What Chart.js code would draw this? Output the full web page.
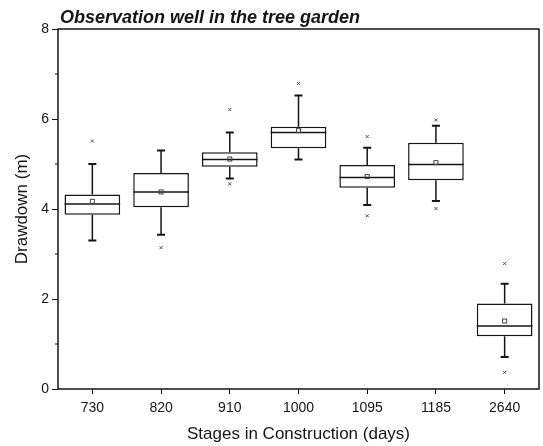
<!doctype html>
<html lang="en">
  <head>
    <meta charset="utf-8">
    <title>Observation well in the tree garden</title>
    <style>
      * { margin: 0; padding: 0; }
      body { background: #fff; }
      .chartBox { width: 543px; height: 446px; }
    </style>
  </head>
  <body>
    <div class="chartBox">
      <canvas id="myChart" width="543" height="446"></canvas>
    </div>
    <script src="https://cdn.jsdelivr.net/npm/chart.js"></script>
    <script>
    // data
    const stages = ['730', '820', '910', '1000', '1095', '1185', '2640'];
    const q1 = [3.87, 4.04, 4.94, 5.35, 4.47, 4.64, 1.17];
    const q3 = [4.32, 4.80, 5.26, 5.83, 4.98, 5.47, 1.90];
    const median = [4.11, 4.38, 5.10, 5.70, 4.70, 4.99, 1.40];
    const mean = [4.17, 4.38, 5.11, 5.74, 4.72, 5.03, 1.51];
    const whiskerLow = [3.30, 3.43, 4.68, 5.10, 4.09, 4.18, 0.71];
    const whiskerHigh = [5.00, 5.30, 5.70, 6.52, 5.36, 5.85, 2.34];
    const outlierLow = [null, 3.14, 4.56, null, 3.85, 4.01, 0.37];
    const outlierHigh = [5.51, null, 6.21, 6.79, 5.61, 5.98, 2.79];
    const yTicks = [0, 2, 4, 6, 8];
    const yMinorTicks = [1, 3, 5, 7];

    const ink = '#151515';
    const font = 'Liberation Sans, Arial, sans-serif';

    // whiskers, medians, means and outliers on top of the floating bars
    const boxParts = {
      id: 'boxParts',
      afterDatasetsDraw(chart) {
        const { ctx, scales: { y } } = chart;
        const meta = chart.getDatasetMeta(0);
        ctx.save();
        ctx.strokeStyle = ink;
        meta.data.forEach((bar, i) => {
          const x = bar.x;
          const half = bar.width / 2;
          const yq1 = y.getPixelForValue(q1[i]);
          const yq3 = y.getPixelForValue(q3[i]);
          const ylo = y.getPixelForValue(whiskerLow[i]);
          const yhi = y.getPixelForValue(whiskerHigh[i]);

          // whiskers
          ctx.lineWidth = 1.5;
          ctx.beginPath();
          ctx.moveTo(x, yq3); ctx.lineTo(x, yhi);
          ctx.moveTo(x, yq1); ctx.lineTo(x, ylo);
          ctx.stroke();
          ctx.lineWidth = 2;
          ctx.beginPath();
          ctx.moveTo(x - 4, yhi); ctx.lineTo(x + 4, yhi);
          ctx.moveTo(x - 4, ylo); ctx.lineTo(x + 4, ylo);
          ctx.stroke();

          // median
          ctx.lineWidth = 1.5;
          ctx.beginPath();
          const ym = y.getPixelForValue(median[i]);
          ctx.moveTo(x - half, ym); ctx.lineTo(x + half, ym);
          ctx.stroke();

          // mean
          ctx.lineWidth = 1;
          ctx.strokeStyle = '#444';
          const ymean = y.getPixelForValue(mean[i]);
          ctx.strokeRect(x - 2, ymean - 2, 4, 4);

          // outliers
          ctx.strokeStyle = '#555';
          [outlierLow[i], outlierHigh[i]].forEach(v => {
            if (v === null) return;
            const yo = y.getPixelForValue(v);
            ctx.beginPath();
            ctx.moveTo(x - 1.5, yo - 1.5); ctx.lineTo(x + 1.5, yo + 1.5);
            ctx.moveTo(x + 1.5, yo - 1.5); ctx.lineTo(x - 1.5, yo + 1.5);
            ctx.stroke();
          });
          ctx.strokeStyle = ink;
        });
        ctx.restore();
      }
    };

    // frame, minor ticks and title
    const frame = {
      id: 'frame',
      afterDraw(chart) {
        const { ctx, chartArea: { top, bottom, left, right }, scales: { y } } = chart;
        ctx.save();
        ctx.strokeStyle = ink;
        ctx.lineWidth = 1.5;
        ctx.strokeRect(left, top, right - left, bottom - top);
        ctx.lineWidth = 1;
        ctx.beginPath();
        yMinorTicks.forEach(v => {
          const yy = y.getPixelForValue(v);
          ctx.moveTo(left - 3, yy); ctx.lineTo(left, yy);
        });
        ctx.stroke();

        ctx.fillStyle = ink;
        ctx.font = 'italic bold 18px ' + font;
        ctx.textAlign = 'left';
        ctx.textBaseline = 'alphabetic';
        ctx.fillText('Observation well in the tree garden', left + 2, top - 6);
        ctx.restore();
      }
    };

    const data = {
      labels: stages,
      datasets: [{
        label: 'Drawdown',
        data: q1.map((v, i) => [v, q3[i]]),
        backgroundColor: '#fff',
        borderColor: ink,
        borderWidth: 1.5,
        borderSkipped: false,
        categoryPercentage: 1,
        barPercentage: 0.81
      }]
    };

    const config = {
      type: 'bar',
      data,
      options: {
        responsive: false,
        animation: false,
        layout: {
          padding: { top: 29, right: 4, left: 0, bottom: 0 }
        },
        scales: {
          x: {
            offset: true,
            grid: { display: true, drawOnChartArea: false, drawTicks: true, tickLength: 5, color: ink, offset: false },
            border: { display: false },
            ticks: { color: ink, font: { family: font, size: 14 }, padding: 6, maxRotation: 0 },
            title: {
              display: true,
              text: 'Stages in Construction (days)',
              color: ink,
              font: { family: font, size: 17 },
              padding: { top: 0, bottom: 1 }
            },
            afterFit(scale) { scale.height = 57; }
          },
          y: {
            min: 0,
            max: 8,
            afterBuildTicks(scale) { scale.ticks = yTicks.map(v => ({ value: v })); },
            grid: { display: true, drawOnChartArea: false, drawTicks: true, tickLength: 6, color: ink },
            border: { display: false },
            ticks: { color: ink, font: { family: font, size: 14 }, padding: 3 },
            title: {
              display: true,
              text: 'Drawdown (m)',
              color: ink,
              font: { family: font, size: 17 },
              padding: { top: 12, bottom: 0 }
            },
            afterFit(scale) { scale.width = 58; }
          }
        },
        plugins: {
          legend: { display: false },
          tooltip: { enabled: false }
        }
      },
      plugins: [boxParts, frame]
    };

    const myChart = new Chart(document.getElementById('myChart'), config);
    </script>
  </body>
</html>
